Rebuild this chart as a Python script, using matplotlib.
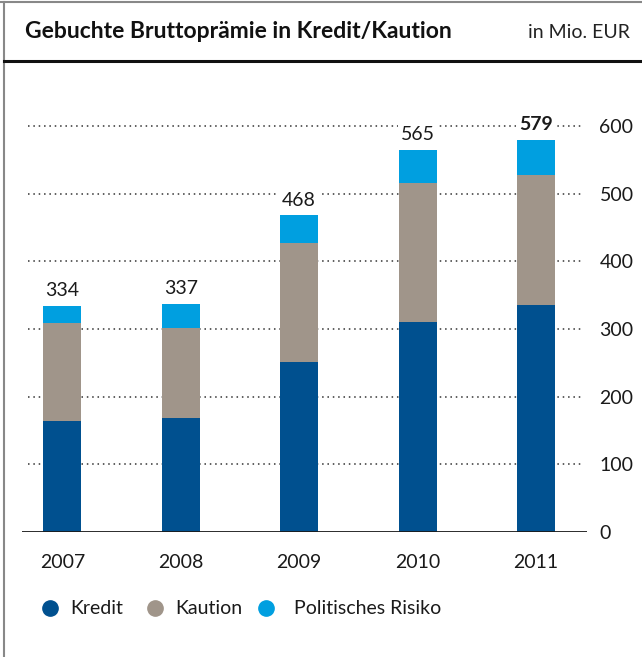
import matplotlib
matplotlib.use("Agg")
import matplotlib.pyplot as plt
from matplotlib.lines import Line2D

plt.rcParams['font.family'] = ['Lato', 'DejaVu Sans']

years = ["2007", "2008", "2009", "2010", "2011"]
kredit = [164, 169, 251, 310, 336]
kaution = [145, 132, 176, 206, 191]
politisch = [25, 36, 41, 49, 52]
totals = [334, 337, 468, 565, 579]
yticks = [0, 100, 200, 300, 400, 500, 600]

c_kredit = "#00508f"
c_kaution = "#a0958a"
c_pol = "#009fe0"

W, H = 642, 657
fig = plt.figure(figsize=(W / 100, H / 100), dpi=100)

# axes placed in pixel terms
left, right = 22, 587
bottom = 532
top = 100
ax = fig.add_axes([left / W, 1 - bottom / H, (right - left) / W, (bottom - top) / H])
ymax = (bottom - top) / ((532 - 126) / 600)

x = list(range(len(years)))
bw = 0.32
ax.bar(x, kredit, bw, color=c_kredit, zorder=3)
base2 = kredit
ax.bar(x, kaution, bw, bottom=base2, color=c_kaution, zorder=3)
base3 = [a + b for a, b in zip(kredit, kaution)]
ax.bar(x, politisch, bw, bottom=base3, color=c_pol, zorder=3)

for i, t in enumerate(totals):
    ax.text(i, t + 10, str(t), ha="center", va="bottom", fontsize=14,
            fontweight="bold" if i == len(totals) - 1 else "normal", color="#1a1a1a",
            bbox=dict(boxstyle="square,pad=0.15", fc="white", ec="none"), zorder=5)

for v in yticks[1:]:
    ax.axhline(v, color="#333333", lw=1.1, ls=(0, (1, 2.5)), xmin=0.01, xmax=0.993, zorder=1)
ax.axhline(0, color="#1a1a1a", lw=1.3, zorder=4)

ax.set_xlim(-0.34, 4.43)
ax.set_ylim(0, ymax)
ax.set_yticks(yticks)
ax.yaxis.tick_right()
ax.tick_params(axis="y", length=0, pad=9, labelsize=14, labelcolor="#1a1a1a")
ax.set_xticks(x)
ax.set_xticklabels(years)
ax.tick_params(axis="x", length=0, pad=15.5, labelsize=14, labelcolor="#1a1a1a")
for s in ax.spines.values():
    s.set_visible(False)

# header
fig.text(25 / W, 1 - 32 / H, "Gebuchte Bruttoprämie in Kredit/Kaution", fontsize=16.5,
         fontweight="bold", ha="left", va="center", color="#111111")
fig.text(630 / W, 1 - 32 / H, "in Mio. EUR", fontsize=14, ha="right", va="center", color="#222222")

# frame lines
fig.add_artist(Line2D([0, 1], [1 - 2 / H, 1 - 2 / H], color="#888888", lw=1.5))
fig.add_artist(Line2D([4 / W, 4 / W], [0, 1 - 2 / H], color="#888888", lw=1.5))
fig.add_artist(Line2D([4 / W, 1], [1 - 61 / H, 1 - 61 / H], color="#111111", lw=2.2))

# legend
labels = ["Kredit", "Kaution", "Politisches Risiko"]
colors = [c_kredit, c_kaution, c_pol]
dots = [50, 155, 266]
texts = [70, 175, 294]
ly = 1 - 608 / H
for dx, tx, lab, col in zip(dots, texts, labels, colors):
    fig.add_artist(Line2D([dx / W], [ly], marker="o", markersize=11, color=col, lw=0))
    fig.text(tx / W, ly, lab, fontsize=14, ha="left", va="center", color="#1a1a1a")

fig.savefig("out.png", dpi=100)
